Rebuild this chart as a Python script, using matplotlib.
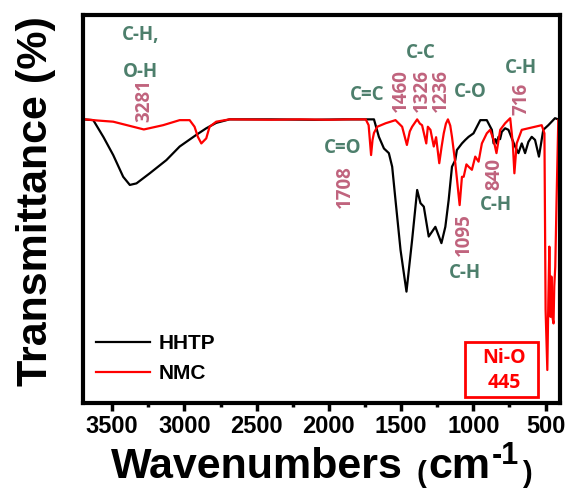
import matplotlib.pyplot as plt
from matplotlib.patches import Rectangle

plt.rcParams['font.family'] = 'Liberation Sans'
plt.rcParams['font.weight'] = 'bold'

# FTIR spectra (wavenumber in cm-1, transmittance in %)
hhtp_wn = [3700, 3631, 3560, 3493, 3424, 3378, 3332, 3240, 3125, 3033,
           2918, 2849, 2780, 2688, 2400, 2100, 1900, 1750, 1688, 1654,
           1619, 1585, 1562, 1539, 1504, 1463, 1424, 1389, 1366, 1343,
           1309, 1263, 1221, 1194, 1171, 1148, 1125, 1114, 1079, 1056,
           1033, 999, 952, 907, 872, 860, 848, 838, 826, 815,
           803, 780, 757, 711, 688, 665, 642, 619, 596, 573,
           546, 516, 481, 435, 412, 400]
hhtp_t = [73.1, 72.9, 68.5, 63.9, 58.3, 56.2, 56.6, 59.2, 62.6, 66.1,
          69.1, 70.8, 72.2, 73.1, 73.1, 73.0, 73.1, 73.1, 73.1, 68.6,
          65.6, 64.4, 60.9, 52.3, 39.4, 28.7, 42.0, 54.9, 51.5, 50.6,
          42.9, 45.4, 41.2, 45.4, 52.3, 60.9, 62.6, 65.2, 66.9, 67.8,
          68.6, 69.5, 72.9, 72.9, 70.4, 66.9, 68.0, 66.9, 68.6, 68.0,
          69.9, 70.8, 70.4, 66.1, 64.4, 66.9, 64.4, 67.3, 68.6, 67.8,
          63.5, 70.4, 71.6, 73.4, 73.1, 73.1]

nmc_wn = [3700, 3688, 3600, 3493, 3355, 3281, 3148, 3033, 2964, 2930,
          2907, 2883, 2849, 2826, 2780, 2688, 2400, 2200, 2000, 1850,
          1745, 1725, 1708, 1698, 1688, 1665, 1607, 1539, 1493, 1460,
          1440, 1424, 1389, 1370, 1355, 1326, 1315, 1297, 1274, 1258,
          1236, 1220, 1205, 1190, 1176, 1160, 1148, 1125, 1095, 1079,
          1067, 1048, 1033, 1010, 987, 964, 941, 907, 884, 860,
          840, 814, 780, 745, 727, 716, 700, 665, 619, 573,
          527, 508, 500, 488, 481, 474, 466, 460, 453, 445,
          440, 433, 424, 412, 400]
nmc_t = [73.1, 73.1, 72.8, 72.5, 71.2, 70.5, 71.6, 72.9, 72.9, 71.2,
         68.6, 66.9, 68.2, 71.2, 72.5, 73.1, 73.0, 73.1, 73.0, 73.1,
         73.1, 71.6, 63.9, 67.8, 69.6, 71.2, 72.1, 72.9, 71.2, 66.5,
         70.0, 71.2, 73.1, 72.0, 71.6, 66.9, 71.2, 70.4, 66.1, 68.5,
         61.8, 66.0, 69.5, 72.0, 73.1, 71.5, 68.6, 61.8, 51.0, 58.3,
         58.3, 61.5, 60.9, 60.1, 63.5, 62.2, 66.9, 69.5, 70.4, 67.8,
         64.4, 70.4, 72.1, 73.4, 66.9, 59.2, 66.9, 70.4, 70.8, 71.2,
         71.6, 69.5, 24.0, 8.5, 26.5, 40.3, 22.2, 32.6, 22.2, 20.5,
         30.0, 35.1, 52.3, 73.0, 73.1]

major_ticks = [3500, 3000, 2500, 2000, 1500, 1000, 500]
minor_ticks = [3250, 2750, 2250, 1750, 1250, 750]

peak_numbers = ['3281', '1708', '1460', '1326', '1236', '1095', '840', '716']
peak_pos = [(3281, 72.5, 'bottom'), (1890, 61.3, 'top'), (1504, 75.1, 'bottom'),
            (1355, 75.0, 'bottom'), (1224, 75.0, 'bottom'), (1063, 49.0, 'top'),
            (854, 63.1, 'top'), (665, 74.2, 'bottom')]

bond_names = ['C-H,', 'O-H', 'C=O', 'C=C', 'C-C', 'C-O', 'C-H', 'C-H', 'C-H']
bond_pos = [(3300, 94.8), (3305, 85.4), (1902, 65.6), (1734, 79.4), (1366, 90.1),
            (1021, 80.2), (669, 86.3), (842, 50.9), (1056, 33.4)]

nio_text = 'Ni-O\n445'

green = '#4d7f6c'
pink = '#c0637d'

fig = plt.figure(figsize=(5.71, 4.95), dpi=100)
ax = fig.add_axes([0.1459, 0.1859, 0.8349, 0.7838])

ax.plot(hhtp_wn, hhtp_t, color='black', lw=1.6, label='HHTP')
ax.plot(nmc_wn, nmc_t, color='#ff0000', lw=1.6, label='NMC')

ax.set_xlim(3700, 400)
ax.set_ylim(0, 100)
ax.set_yticks([])
ax.set_xticks(major_ticks)
ax.set_xticks(minor_ticks, minor=True)
ax.tick_params(axis='x', which='major', length=6, width=2.5, labelsize=17, pad=3)
ax.tick_params(axis='x', which='minor', length=3, width=2.5)
for lab in ax.get_xticklabels():
    lab.set_fontweight('bold')
for sp in ax.spines.values():
    sp.set_linewidth(3)

for txt, (x, y, va) in zip(peak_numbers, peak_pos):
    ax.text(x, y, txt, rotation=90, ha='center', va=va, color=pink,
            fontsize=13.5, fontweight='bold', family='Open Sans')

for txt, (x, y) in zip(bond_names, bond_pos):
    ax.text(x, y, txt, ha='center', va='center', color=green,
            fontsize=13.5, fontweight='bold', family='Open Sans')

ax.add_patch(Rectangle((552, 1.6), 504, 14.2, fill=False, edgecolor='#ff0000', lw=2))
ax.text(785, 8.4, nio_text, ha='center', va='center', color='#ff0000',
        fontsize=14, fontweight='bold', family='Open Sans', linespacing=1.3)

ax.legend(loc='upper left', bbox_to_anchor=(0.027, 0.178), frameon=False,
          borderpad=0, borderaxespad=0, handlelength=2.6, handletextpad=0.4,
          labelspacing=0.55, prop={'size': 15, 'weight': 'bold'})

fig.text(36 / 571, 0.593, 'Transmittance (%)', rotation=90, ha='center', va='center',
         fontsize=31, fontweight='bold')

# x label built from pieces so the parentheses can be smaller
r = fig.canvas.get_renderer()
x = 111
pieces = [('Wavenumbers', 31, 0, 14), ('(', 21, -4, 2), ('cm', 31, 0, 1),
          ('-1', 22, 14, 3), (')', 21, -4, 0)]
for s, size, dy, gap in pieces:
    t = fig.text(x / 571, (495 - 478 + dy) / 495, s, fontsize=size,
                 fontweight='bold', ha='left', va='baseline')
    x += t.get_window_extent(r).width + gap

fig.savefig('out.png', dpi=100)
